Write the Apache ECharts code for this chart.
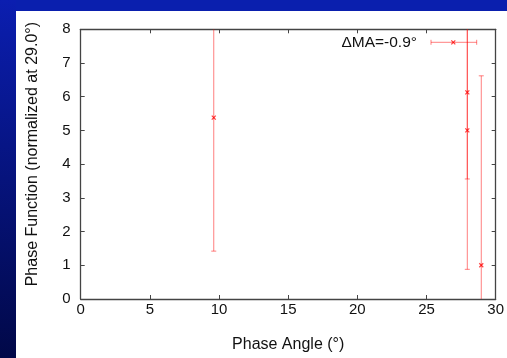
<!DOCTYPE html>
<html>
<head>
<meta charset="utf-8">
<script src="https://cdn.jsdelivr.net/npm/echarts@6/dist/echarts.min.js"></script>
<style>
html,body{margin:0;padding:0;background:#fff;}
#c{width:507px;height:358px;}
</style>
</head>
<body>
<div id="c"></div>
<script>
// Data
const phaseAngle = [9.62, 27.95, 27.95, 28.96];
const phaseFunc  = [5.38, 6.13, 5.00, 1.00];
const errLow     = [1.42, 3.56, 0.88, -4.62];
const errHigh    = [9.34, 8.70, 9.12, 6.62];
const xTicks = [0, 5, 10, 15, 20, 25, 30];
const yTicks = [0, 1, 2, 3, 4, 5, 6, 7, 8];
const legendLabel = 'ΔMA=-0.9°';

const RED = 'rgba(255,0,0,0.5)';
const RED_M = 'rgba(255,0,0,0.75)';
const AXC = '#444';
const FONT = 'Liberation Sans, Arial, sans-serif';

const data = phaseAngle.map((x, i) => [x, phaseFunc[i], errLow[i], errHigh[i]]);

function renderItem(params, api) {
  const cs = params.coordSys;
  const top = cs.y, bot = cs.y + cs.height;
  const x = api.value(0);
  const pm = api.coord([x, api.value(1)]);
  const pl = api.coord([x, api.value(2)]);
  const ph = api.coord([x, api.value(3)]);
  const px = pm[0];
  const children = [];
  const yl = Math.min(bot, pl[1]);
  const yh = Math.max(top, ph[1]);
  children.push({type: 'line', shape: {x1: px, y1: yl, x2: px, y2: yh}, style: {stroke: RED, lineWidth: 1}});
  const cap = 2.5;
  if (pl[1] <= bot) children.push({type: 'line', shape: {x1: px - cap, y1: pl[1], x2: px + cap, y2: pl[1]}, style: {stroke: RED, lineWidth: 1}});
  if (ph[1] >= top) children.push({type: 'line', shape: {x1: px - cap, y1: ph[1], x2: px + cap, y2: ph[1]}, style: {stroke: RED, lineWidth: 1}});
  const m = 2;
  children.push({type: 'line', shape: {x1: px - m, y1: pm[1] - m, x2: px + m, y2: pm[1] + m}, style: {stroke: RED_M, lineWidth: 1.2}});
  children.push({type: 'line', shape: {x1: px - m, y1: pm[1] + m, x2: px + m, y2: pm[1] - m}, style: {stroke: RED_M, lineWidth: 1.2}});
  return {type: 'group', children: children};
}

const chart = echarts.init(document.getElementById('c'), null, {renderer: 'canvas'});
function axisCommon() {
  return {
    axisLine: {show: true, onZero: false, lineStyle: {color: AXC, width: 1.3}},
    axisTick: {show: true, inside: true, length: 4, lineStyle: {color: AXC}},
    splitLine: {show: false}
  };
}
const lx = 431, rx = 476.7, ly = 42.3, mx = 453.3;
chart.setOption({
  animation: false,
  backgroundColor: '#fff',
  textStyle: {fontFamily: FONT},
  grid: {left: 80.7, right: 9.7, top: 29.3, bottom: 59},
  xAxis: [
    Object.assign({
      type: 'value', min: xTicks[0], max: xTicks[xTicks.length - 1], interval: 5,
      position: 'bottom',
      name: 'Phase Angle (°)', nameLocation: 'middle', nameGap: 38,
      nameTextStyle: {fontSize: 16, color: '#111', fontFamily: FONT},
      axisLabel: {fontSize: 15, color: '#111', margin: 3, fontFamily: FONT}
    }, axisCommon()),
    Object.assign({
      type: 'value', min: xTicks[0], max: xTicks[xTicks.length - 1], interval: 5,
      position: 'top', axisLabel: {show: false}
    }, axisCommon())
  ],
  yAxis: [
    Object.assign({
      type: 'value', min: yTicks[0], max: yTicks[yTicks.length - 1], interval: 1,
      position: 'left',
      name: 'Phase Function (normalized at 29.0°)', nameLocation: 'middle', nameGap: 40,
      nameTextStyle: {fontSize: 16, color: '#111', fontFamily: FONT, padding: [0, 0, 0, 20]},
      axisLabel: {fontSize: 15, color: '#111', margin: 10, fontFamily: FONT}
    }, axisCommon()),
    Object.assign({
      type: 'value', min: yTicks[0], max: yTicks[yTicks.length - 1], interval: 1,
      position: 'right', axisLabel: {show: false}
    }, axisCommon())
  ],
  graphic: [
    {type: 'rect', z: -10, shape: {x: 0, y: 0, width: 507, height: 11}, style: {fill: '#0a1fae'}},
    {type: 'rect', z: -10, shape: {x: 0, y: 0, width: 16, height: 358},
      style: {fill: new echarts.graphic.LinearGradient(0, 0, 0, 1, [
        {offset: 0, color: '#0b1eb0'}, {offset: 1, color: '#010848'}])}},
    {type: 'text', z: 10, style: {x: 417, y: ly, text: legendLabel, align: 'right', verticalAlign: 'middle',
      font: '15.5px ' + FONT, fill: '#111'}},
    {type: 'line', z: 10, shape: {x1: lx, y1: ly, x2: rx, y2: ly}, style: {stroke: RED, lineWidth: 1}},
    {type: 'line', z: 10, shape: {x1: lx, y1: ly - 2.5, x2: lx, y2: ly + 2.5}, style: {stroke: RED, lineWidth: 1}},
    {type: 'line', z: 10, shape: {x1: rx, y1: ly - 2.5, x2: rx, y2: ly + 2.5}, style: {stroke: RED, lineWidth: 1}},
    {type: 'line', z: 10, shape: {x1: mx - 2, y1: ly - 2, x2: mx + 2, y2: ly + 2}, style: {stroke: RED_M, lineWidth: 1.2}},
    {type: 'line', z: 10, shape: {x1: mx - 2, y1: ly + 2, x2: mx + 2, y2: ly - 2}, style: {stroke: RED_M, lineWidth: 1.2}}
  ],
  series: [{
    type: 'custom',
    xAxisIndex: 0, yAxisIndex: 0,
    renderItem: renderItem,
    encode: {x: 0, y: 1},
    data: data
  }]
});
</script>
</body>
</html>
